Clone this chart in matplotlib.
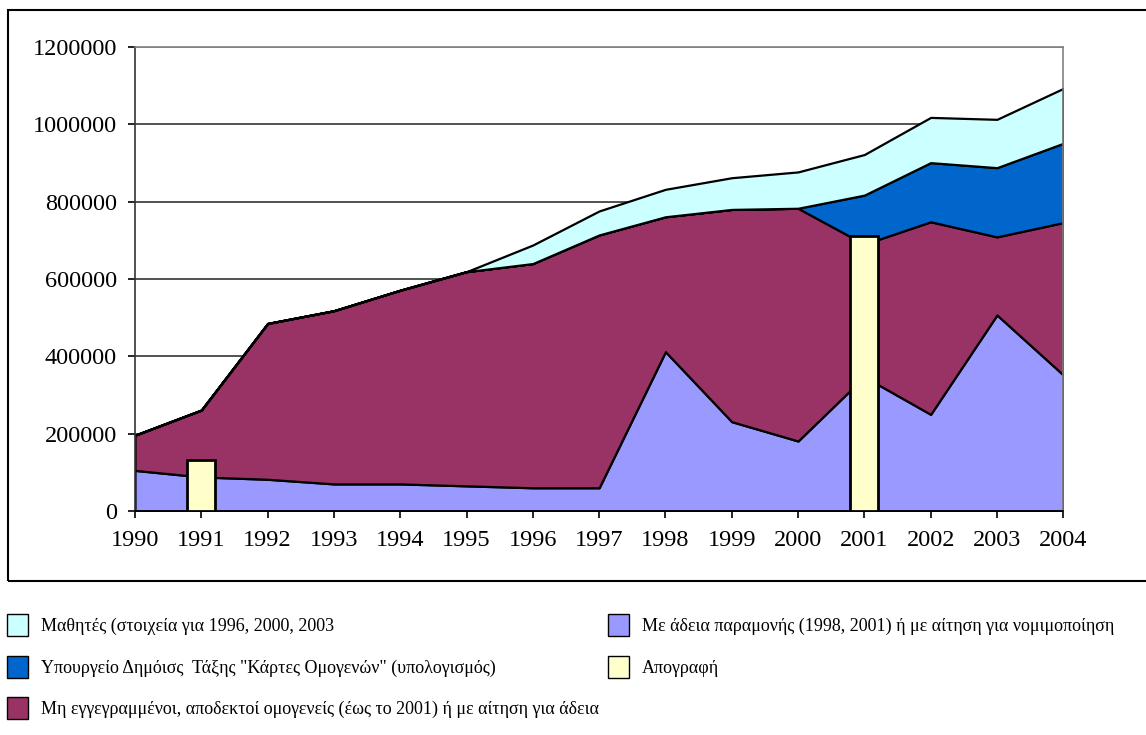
import matplotlib.pyplot as plt
from matplotlib.patches import Patch, Rectangle
from matplotlib.ticker import StrMethodFormatter

# Δεδομένα (εκτιμήσεις από το γράφημα)
years = [1990, 1991, 1992, 1993, 1994, 1995, 1996, 1997, 1998, 1999, 2000, 2001, 2002, 2003, 2004]
me_adeia = [105000, 88000, 82000, 70000, 70000, 65000, 60000, 60000, 412000, 231000, 181000, 347000, 250000, 507000, 352000]
mi_eggegr = [91000, 173000, 403000, 448000, 501000, 554000, 580000, 654000, 349000, 549000, 602000, 343000, 498000, 202000, 394000]
kartes = [0, 0, 0, 0, 0, 0, 0, 0, 0, 0, 0, 127000, 153000, 179000, 205000]
mathites = [0, 0, 0, 0, 0, 0, 48000, 62000, 71000, 82000, 94000, 105000, 117000, 125000, 142000]

census_years = [1991, 2001]
census_values = [132000, 712000]

labels = [
    "Μαθητές (στοιχεία για 1996, 2000, 2003",
    "Υπουργείο Δημόισς  Τάξης \"Κάρτες Ομογενών\" (υπολογισμός)",
    "Μη εγγεγραμμένοι, αποδεκτοί ομογενείς (έως το 2001) ή με αίτηση για άδεια",
    "Με άδεια παραμονής (1998, 2001) ή με αίτηση για νομιμοποίηση",
    "Απογραφή",
]
colors = ["#CCFFFF", "#0066CC", "#993366", "#9999FF", "#FFFFCC"]

plt.rcParams["font.family"] = ["Liberation Serif", "DejaVu Serif"]

fig = plt.figure(figsize=(11.46, 7.35), dpi=100)
ax = fig.add_axes([0.1178, 0.3048, 0.81, 0.6312])

# Γραμμές πλέγματος
for v in range(200000, 1200001, 200000):
    ax.axhline(v, color="#333333" if v < 1200000 else "#808080", linewidth=1.2, zorder=0)

# Στοιβαγμένες περιοχές (από κάτω προς τα πάνω)
ax.stackplot(years, me_adeia, mi_eggegr, kartes, mathites,
             colors=[colors[3], colors[2], colors[1], colors[0]],
             edgecolor="black", linewidth=1.6, zorder=2)

# Απογραφή
ax.bar(census_years, census_values, width=0.42, color=colors[4],
       edgecolor="black", linewidth=2, zorder=3)

ax.set_xlim(1990, 2004)
ax.set_ylim(0, 1200000)
ax.set_xticks(years)
ax.set_yticks(range(0, 1200001, 200000))
ax.yaxis.set_major_formatter(StrMethodFormatter("{x:.0f}"))
ax.tick_params(axis="both", labelsize=17.5, direction="out", length=5, width=1.2)
ax.tick_params(axis="x", pad=9)
ax.tick_params(axis="y", pad=8)

ax.spines["top"].set_color("#808080")
ax.spines["right"].set_color("#808080")
ax.spines["left"].set_color("#333333")
ax.spines["bottom"].set_color("black")
for s in ax.spines.values():
    s.set_linewidth(1.2)

# Πλαίσιο γραφήματος
fig.patches.append(Rectangle((8 / 1146, 1 - 581 / 735), 1.2, (581 - 10) / 735,
                             transform=fig.transFigure, fill=False,
                             edgecolor="black", linewidth=1.5))

# Υπόμνημα
handles = [Patch(facecolor=c, edgecolor="black", linewidth=1) for c in colors]
fig.legend(handles, labels, ncol=2, loc="upper left",
           bbox_to_anchor=(-0.008, 1 - 598 / 735), frameon=False,
           fontsize=13, handlelength=1.15, handleheight=1.5,
           labelspacing=1.08, columnspacing=0.5, handletextpad=0.72)

plt.savefig("out.png", dpi=100)
